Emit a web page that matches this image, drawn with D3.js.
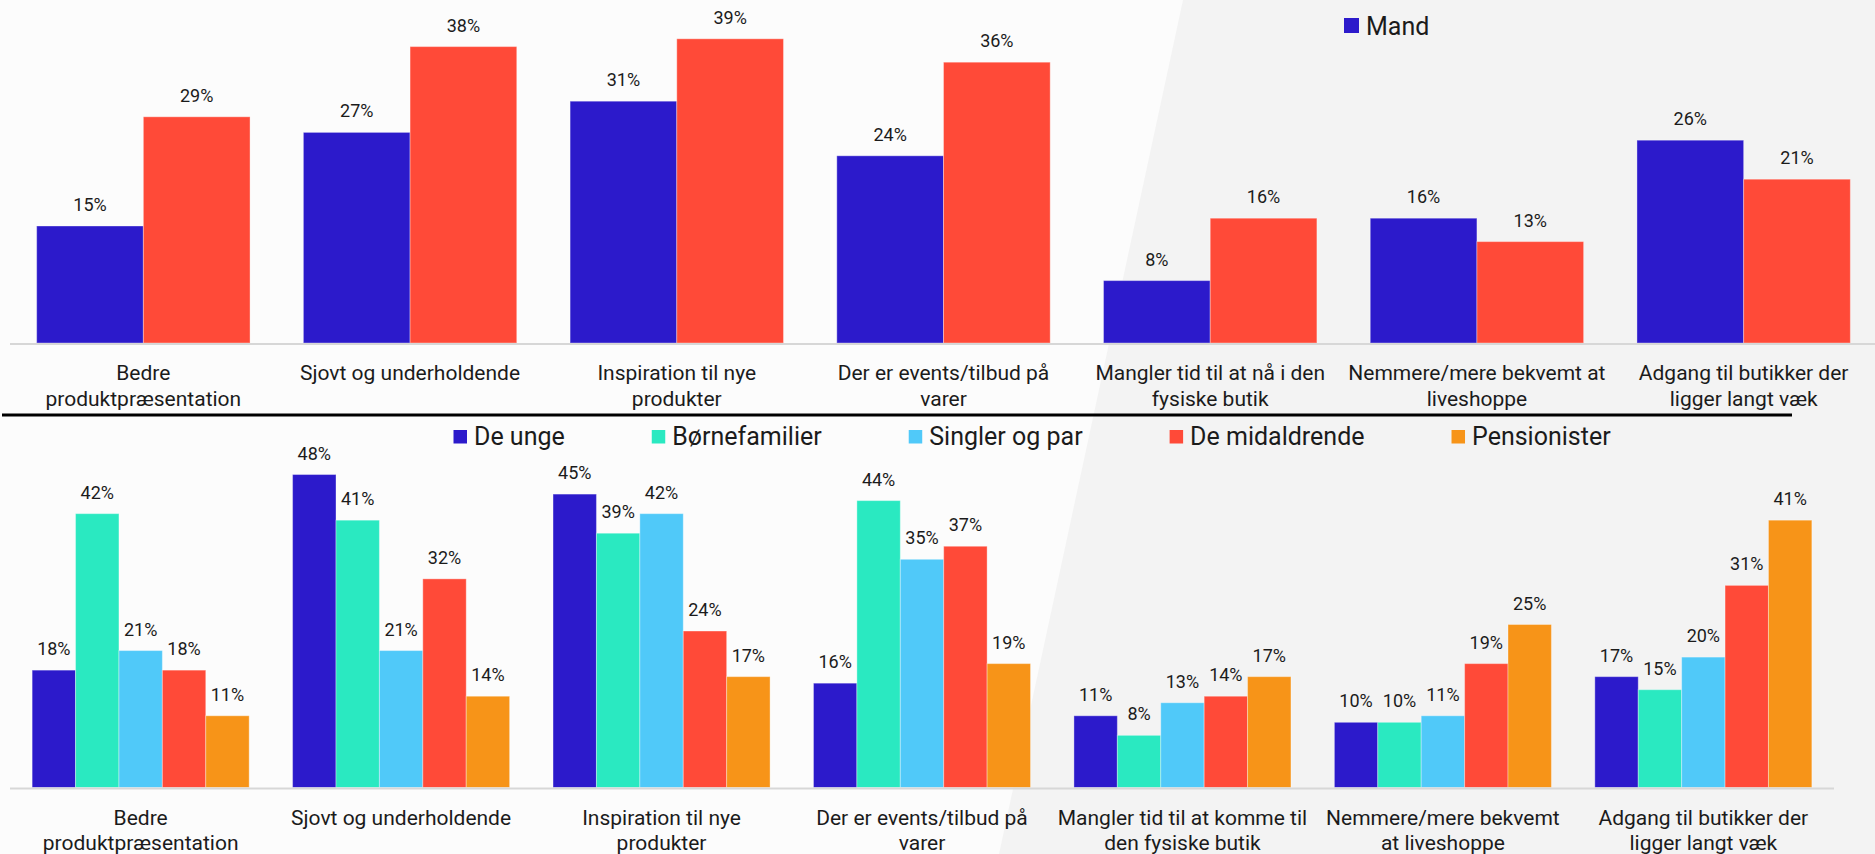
<!DOCTYPE html>
<html>
<head>
<meta charset="utf-8">
<script src="https://cdn.jsdelivr.net/npm/d3@7"></script>
<style>
  html, body { margin: 0; padding: 0; background: #fcfcfc; }
  svg { display: block; }
  text { font-family: Roboto, "Noto Sans", sans-serif; fill: #1b1b1b; }
</style>
</head>
<body>
<svg id="chart" width="1875" height="854"></svg>
<script>
// ---- Data: gender split ----
const genderCategories = [
  ["Bedre", "produktpræsentation"],
  ["Sjovt og underholdende"],
  ["Inspiration til nye", "produkter"],
  ["Der er events/tilbud på", "varer"],
  ["Mangler tid til at nå i den", "fysiske butik"],
  ["Nemmere/mere bekvemt at", "liveshoppe"],
  ["Adgang til butikker der", "ligger langt væk"]
];
const genderSeries = ["Mand", "Kvinde"];
const mandValues   = [15, 27, 31, 24, 8, 16, 26];
const kvindeValues = [29, 38, 39, 36, 16, 13, 21];
const genderLegend = ["Mand"];

// ---- Data: life-stage segments ----
const segmentCategories = [
  ["Bedre", "produktpræsentation"],
  ["Sjovt og underholdende"],
  ["Inspiration til nye", "produkter"],
  ["Der er events/tilbud på", "varer"],
  ["Mangler tid til at komme til", "den fysiske butik"],
  ["Nemmere/mere bekvemt", "at liveshoppe"],
  ["Adgang til butikker der", "ligger langt væk"]
];
const segmentSeries = ["De unge", "Børnefamilier", "Singler og par", "De midaldrende", "Pensionister"];
const deUngeValues         = [18, 48, 45, 16, 11, 10, 17];
const boernefamilierValues = [42, 41, 39, 44, 8, 10, 15];
const singlerOgParValues   = [21, 21, 42, 35, 13, 11, 20];
const midaldrendeValues    = [18, 32, 24, 37, 14, 19, 31];
const pensionisterValues   = [11, 14, 17, 19, 17, 25, 41];

const palette = {
  "Mand": "#2c1acb",
  "Kvinde": "#ff4a38",
  "De unge": "#2c1acb",
  "Børnefamilier": "#2ae9c1",
  "Singler og par": "#50c9f9",
  "De midaldrende": "#ff4a38",
  "Pensionister": "#f79418"
};

const svg = d3.select("#chart");
const W = 1875, H = 854;

// soft two-tone backdrop with a diagonal split
svg.append("rect").attr("width", W).attr("height", H).attr("fill", "#fcfcfc");
svg.append("path")
  .attr("d", d3.line()([[1183, 0], [W, 0], [W, H], [999, H]]))
  .attr("fill", "#f3f3f3");

function drawPanel(opt) {
  const g = svg.append("g");
  const idx = d3.range(opt.categories.length);

  const x = d3.scaleBand().domain(idx).range(opt.xRange)
    .paddingInner(opt.padInner).paddingOuter(opt.padOuter);
  const xs = d3.scaleBand().domain(opt.series).range([0, x.bandwidth()]);
  const y = d3.scaleLinear().domain([0, opt.yMax])
    .range([opt.baseline, opt.baseline - opt.yMax * opt.pxPerUnit]);

  const rows = [];
  opt.series.forEach((s, si) => {
    opt.values[si].forEach((v, ci) => rows.push({ s, ci, v }));
  });

  g.selectAll("rect.bar").data(rows).join("rect")
    .attr("class", "bar")
    .attr("x", d => x(d.ci) + xs(d.s))
    .attr("y", d => y(d.v))
    .attr("width", xs.bandwidth())
    .attr("height", d => y(0) - y(d.v))
    .attr("fill", d => palette[d.s])
    .attr("stroke", "#ffffff")
    .attr("stroke-opacity", 0.35)
    .attr("stroke-width", 1);

  g.selectAll("text.val").data(rows).join("text")
    .attr("class", "val")
    .attr("x", d => x(d.ci) + xs(d.s) + xs.bandwidth() / 2)
    .attr("y", d => y(d.v) - 15)
    .attr("text-anchor", "middle")
    .attr("font-size", 18)
    .text(d => d3.format(".0%")(d.v / 100));

  // baseline
  g.append("line")
    .attr("x1", opt.xRange[0]).attr("x2", opt.axisEnd)
    .attr("y1", opt.baseline + 1).attr("y2", opt.baseline + 1)
    .attr("stroke", "#d7d7d7").attr("stroke-width", 2);

  // category labels
  const lab = g.selectAll("text.cat").data(opt.categories).join("text")
    .attr("class", "cat")
    .attr("text-anchor", "middle")
    .attr("font-size", 21)
    .attr("y", opt.baseline + 37);
  lab.each(function (lines, i) {
    d3.select(this).selectAll("tspan").data(lines).join("tspan")
      .attr("x", x(i) + x.bandwidth() / 2)
      .attr("dy", (d, k) => k === 0 ? 0 : 25.5)
      .text(d => d);
  });

  // legend
  const leg = g.append("g");
  let cx = opt.legendX;
  opt.legend.forEach(name => {
    leg.append("rect")
      .attr("x", cx).attr("y", opt.legendY - opt.legendBox - 1.5)
      .attr("width", opt.legendBox).attr("height", opt.legendBox)
      .attr("fill", palette[name]);
    const t = leg.append("text")
      .attr("x", cx + opt.legendBox + 7)
      .attr("y", opt.legendY)
      .attr("font-size", 25)
      .text(name);
    cx += opt.legendBox + 7 + t.node().getComputedTextLength() + opt.legendGap;
  });
}

drawPanel({
  categories: genderCategories,
  series: genderSeries,
  values: [mandValues, kvindeValues],
  legend: genderLegend,
  xRange: [10, 1877], axisEnd: 1875,
  padInner: 0.2, padOuter: 0.1,
  baseline: 343, yMax: 44, pxPerUnit: 7.8,
  legendX: 1344, legendY: 34.5, legendBox: 15, legendGap: 87
});

// separator between the two panels
svg.append("line")
  .attr("x1", 2).attr("x2", 1792).attr("y1", 415).attr("y2", 415)
  .attr("stroke", "#000").attr("stroke-width", 3);

drawPanel({
  categories: segmentCategories,
  series: segmentSeries,
  values: [deUngeValues, boernefamilierValues, singlerOgParValues, midaldrendeValues, pensionisterValues],
  legend: segmentSeries,
  xRange: [10, 1834], axisEnd: 1834,
  padInner: 0.1667, padOuter: 0.085,
  baseline: 787.5, yMax: 50, pxPerUnit: 6.52,
  legendX: 453.5, legendY: 445, legendBox: 13.5, legendGap: 87
});
</script>
</body>
</html>
